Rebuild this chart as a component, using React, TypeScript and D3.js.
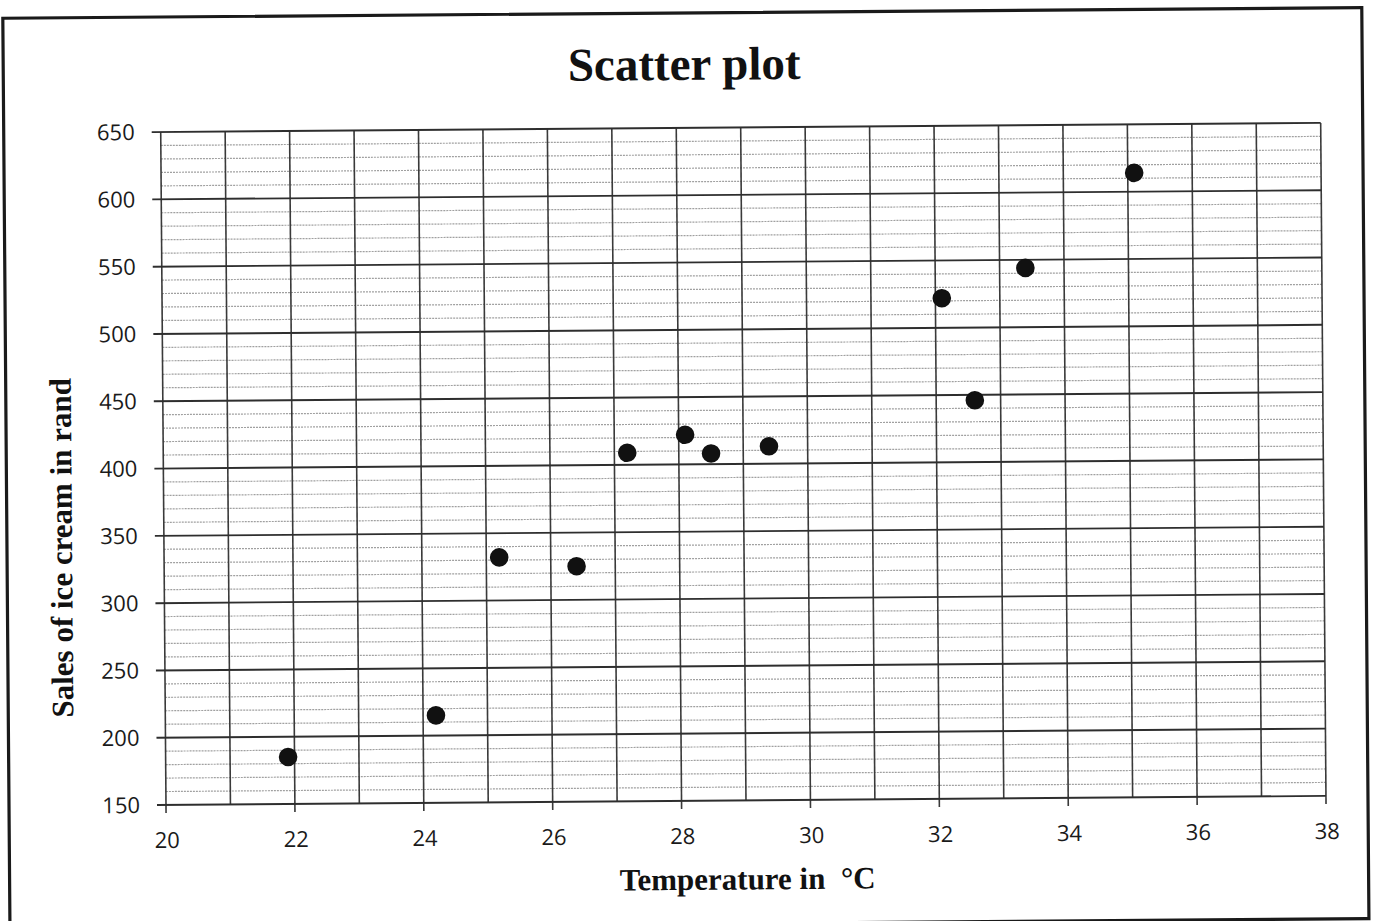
import React from "react";
import * as d3 from "d3";

const temperature = [21.9, 24.2, 25.2, 26.4, 27.2, 28.1, 28.5, 29.4, 32.1, 32.6, 33.4, 35.1];
const sales = [185, 215, 332, 325, 409, 422, 408, 413, 522, 446, 544, 614];
const xTicks = [20, 22, 24, 26, 28, 30, 32, 34, 36, 38];
const yTicks = [150, 200, 250, 300, 350, 400, 450, 500, 550, 600, 650];

const W = 1373;
const H = 921;

export default function App() {
  const x = d3.scaleLinear().domain([20, 38]).range([166, 1326]);
  const y = d3.scaleLinear().domain([150, 650]).range([805, 132]);
  const vLines = d3.range(20, 39, 1);
  const minor = d3.range(160, 650, 10).filter((v) => v % 50 !== 0);
  const points = temperature.map((t, i) => ({ t, s: sales[i] }));
  const sans = "'Open Sans', 'Liberation Sans', sans-serif";
  const serif = "'Liberation Serif', 'DejaVu Serif', serif";

  return (
    <svg
      width={W}
      height={H}
      style={{ position: "absolute", left: 0, top: 0, background: "#fff" }}
    >
      <rect x={0} y={0} width={W} height={H} fill="#fff" />
      <g transform="rotate(-0.45 166 805)">
        <rect x={9} y={17} width={1359} height={911} fill="none" stroke="#1a1a1a" strokeWidth={3.2} />
        <text
          x={690}
          y={84}
          textAnchor="middle"
          fontFamily={serif}
          fontWeight="bold"
          fontSize={47}
          fill="#111"
        >
          Scatter plot
        </text>
        {/* minor horizontal gridlines */}
        {minor.map((v) => (
          <line
            key={"m" + v}
            x1={x(20)}
            x2={x(38)}
            y1={y(v)}
            y2={y(v)}
            stroke="#a0a0a0"
            strokeWidth={1.2}
            strokeDasharray="2 1"
          />
        ))}
        {/* vertical gridlines */}
        {vLines.map((v) => (
          <line
            key={"v" + v}
            x1={x(v)}
            x2={x(v)}
            y1={y(650)}
            y2={v % 2 === 0 ? y(150) + 8 : y(150)}
            stroke="#3a3a3a"
            strokeWidth={1.6}
          />
        ))}
        {/* major horizontal gridlines */}
        {yTicks.map((v) => (
          <line
            key={"h" + v}
            x1={x(20) - 9}
            x2={x(38)}
            y1={y(v)}
            y2={y(v)}
            stroke="#2e2e2e"
            strokeWidth={1.9}
          />
        ))}
        {yTicks.map((v) => (
          <text
            key={"yl" + v}
            x={140}
            y={y(v) + 7.8}
            textAnchor="end"
            fontFamily={sans}
            fontSize={22}
            fill="#1a1a1a"
          >
            {v}
          </text>
        ))}
        {xTicks.map((v) => (
          <text
            key={"xl" + v}
            x={x(v) + 1}
            y={848}
            textAnchor="middle"
            fontFamily={sans}
            fontSize={22}
            fill="#1a1a1a"
          >
            {v}
          </text>
        ))}
        {points.map((p, i) => (
          <circle key={"p" + i} cx={x(p.t)} cy={y(p.s)} r={9.3} fill="#111" />
        ))}
        <text
          x={747}
          y={894}
          textAnchor="middle"
          fontFamily={serif}
          fontWeight="bold"
          fontSize={31}
          fill="#111"
          style={{ whiteSpace: "pre" }}
        >
          {"Temperature in  °C"}
        </text>
        <text
          transform="translate(74 547) rotate(-90)"
          textAnchor="middle"
          fontFamily={serif}
          fontWeight="bold"
          fontSize={31}
          fill="#111"
        >
          Sales of ice cream in rand
        </text>
      </g>
    </svg>
  );
}
